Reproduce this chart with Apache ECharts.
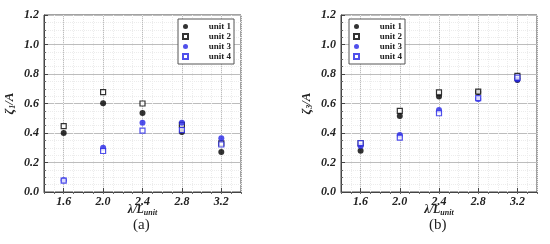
<!DOCTYPE html>
<html>
<head>
<meta charset="utf-8">
<script src="https://cdn.jsdelivr.net/npm/echarts@6/dist/echarts.min.js"></script>
<style>
  html, body { margin: 0; padding: 0; background: #fff; }
  #main { width: 550px; height: 244px; }
</style>
</head>
<body>
<div id="main"></div>
<script>
var xCats = [1.6, 2.0, 2.4, 2.8, 3.2]
var units = ['unit 1', 'unit 2', 'unit 3', 'unit 4']

// panel (a)  zeta_1 / A
var a_unit1 = [0.40, 0.602, 0.535, 0.407, 0.271]
var a_unit2 = [0.447, 0.677, 0.60, 0.456, 0.33]
var a_unit3 = [0.08, 0.30, 0.47, 0.47, 0.364]
var a_unit4 = [0.077, 0.278, 0.416, 0.42, 0.322]

// panel (b)  zeta_3 / A
var b_unit1 = [0.28, 0.515, 0.648, 0.678, 0.76]
var b_unit2 = [0.33, 0.55, 0.675, 0.681, 0.787]
var b_unit3 = [0.312, 0.386, 0.556, 0.63, 0.762]
var b_unit4 = [0.332, 0.368, 0.534, 0.636, 0.776]

const FONT = '"Liberation Serif", "Times New Roman", serif'
const BLUE = '#2424e6'

const styles = [
  { hollow: false, color: '#000' },
  { hollow: true, color: '#000' },
  { hollow: false, color: BLUE },
  { hollow: true, color: BLUE }
]

const pairs = (vals) => xCats.map((x, i) => [x, vals[i]])

const makeSeries = (xIdx, yIdx, datasets) => datasets.map((d, k) => ({
  name: units[k],
  type: 'scatter',
  xAxisIndex: xIdx,
  yAxisIndex: yIdx,
  symbol: styles[k].hollow ? 'rect' : 'circle',
  symbolSize: styles[k].hollow ? 5 : 6,
  itemStyle: styles[k].hollow
    ? { color: '#fff', borderColor: styles[k].color, borderWidth: 1.2 }
    : { color: styles[k].color, borderWidth: 0 },
  data: pairs(d),
  z: 5 + k
}))

const mainX = (idx) => ({
  gridIndex: idx,
  type: 'value',
  min: 1.4, max: 3.4,
  name: '{it|λ/L}{sub|unit}',
  nameLocation: 'middle',
  nameGap: 11,
  nameMoveOverlap: false,
  nameTextStyle: {
    rich: {
      it: { fontFamily: FONT, fontStyle: 'italic', fontWeight: 'bold', fontSize: 12, color: '#222' },
      sub: { fontFamily: FONT, fontStyle: 'italic', fontWeight: 'bold', fontSize: 8, color: '#222', verticalAlign: 'bottom', padding: [6, 0, 0, 0] }
    }
  },
  axisLine: { show: true, onZero: false, lineStyle: { color: '#444', width: 1 } },
  axisTick: { show: true, inside: true, length: 4, customValues: xCats, lineStyle: { color: '#444' } },
  axisLabel: {
    customValues: xCats, margin: 4,
    fontFamily: FONT, fontStyle: 'italic', fontWeight: 'bold', fontSize: 12, color: '#222',
    formatter: (v) => v.toFixed(1)
  },
  splitLine: { show: true, lineStyle: { color: '#bdbdbd', width: 1 } }
})

const minorX = (idx) => ({
  gridIndex: idx,
  type: 'value',
  min: 1.4, max: 3.4, interval: 0.1,
  axisLine: { show: false },
  axisTick: { show: true, inside: true, length: 2, lineStyle: { color: '#666' } },
  axisLabel: { show: false },
  splitLine: { show: true, lineStyle: { color: '#ececec', width: 1, type: 'dotted' } }
})

const mainY = (idx, sub) => ({
  gridIndex: idx,
  type: 'value',
  min: 0, max: 1.2, interval: 0.2,
  name: '{it|ζ}{sub|' + sub + '}{it|/A}',
  nameLocation: 'middle',
  nameGap: 27,
  nameMoveOverlap: false,
  nameTextStyle: {
    rich: {
      it: { fontFamily: FONT, fontStyle: 'italic', fontWeight: 'bold', fontSize: 13, color: '#222' },
      sub: { fontFamily: FONT, fontStyle: 'italic', fontWeight: 'bold', fontSize: 8, color: '#222', verticalAlign: 'bottom', padding: [6, 0, 0, 0] }
    }
  },
  axisLine: { show: true, onZero: false, lineStyle: { color: '#444', width: 1 } },
  axisTick: { show: true, inside: true, length: 4, lineStyle: { color: '#444' } },
  minorTick: { show: true, splitNumber: 4, length: 2, lineStyle: { color: '#666' } },
  axisLabel: {
    margin: 5,
    fontFamily: FONT, fontStyle: 'italic', fontWeight: 'bold', fontSize: 12, color: '#222',
    formatter: (v) => v.toFixed(1)
  },
  splitLine: { show: true, lineStyle: { color: '#bdbdbd', width: 1 } },
  minorSplitLine: { show: true, lineStyle: { color: '#ececec', width: 1, type: 'dotted' } }
})

const makeLegend = (left) => ({
  data: units,
  orient: 'vertical',
  left: left, top: 19,
  itemWidth: 5, itemHeight: 5,
  itemGap: 1,
  padding: [3, 3, 3, 4],
  backgroundColor: '#fff',
  borderColor: '#555', borderWidth: 1,
  borderRadius: 0,
  selectedMode: false,
  formatter: (n) => '{r|' + n + '}',
  textStyle: {
    rich: { r: { width: 38, height: 9, lineHeight: 9, align: 'right', fontFamily: FONT, fontWeight: 'bold', fontSize: 9, color: '#222' } }
  }
})

const chart = echarts.init(document.getElementById('main'), null, { renderer: 'canvas' })

chart.setOption({
  animation: false,
  backgroundColor: '#fff',
  grid: [
    { left: 44, top: 15, width: 197, height: 177, show: true, borderColor: '#444', borderWidth: 1, backgroundColor: 'transparent' },
    { left: 341, top: 15, width: 196, height: 177, show: true, borderColor: '#444', borderWidth: 1, backgroundColor: 'transparent' }
  ],
  xAxis: [mainX(0), minorX(0), mainX(1), minorX(1)],
  yAxis: [mainY(0, '1'), mainY(1, '3')],
  legend: [makeLegend(178), makeLegend(349)],
  graphic: [
    { type: 'text', left: 133, top: 218, style: { text: '(a)', font: '15px ' + FONT, fill: '#222' } },
    { type: 'text', left: 429, top: 218, style: { text: '(b)', font: '15px ' + FONT, fill: '#222' } }
  ],
  series: makeSeries(0, 0, [a_unit1, a_unit2, a_unit3, a_unit4])
    .concat(makeSeries(2, 1, [b_unit1, b_unit2, b_unit3, b_unit4]))
})
</script>
</body>
</html>
